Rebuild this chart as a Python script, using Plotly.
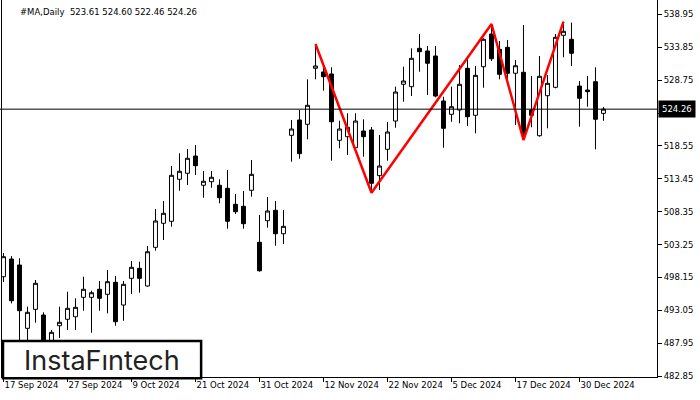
import pandas as pd
import plotly.graph_objects as go

# trading days (US market holidays removed)
holidays = ["2024-11-28", "2024-12-25", "2025-01-01"]
dates = [d.strftime("%Y-%m-%d") for d in pd.bdate_range("2024-09-17", "2025-01-03")
         if d.strftime("%Y-%m-%d") not in holidays]

opens = [
    498.26, 501.01, 500.08, 490.25, 493.20, 492.32, 487.82, 490.66, 491.65, 492.05,
    495.06, 495.06, 496.31, 495.53, 497.39, 493.87, 498.01, 499.56, 496.82, 502.82,
    506.55, 506.86, 513.38, 514.31, 516.99, 512.45, 513.00, 512.45, 511.98, 509.50,
    509.19, 511.67, 503.60, 506.95, 508.57, 504.93, 520.20, 522.58, 521.91, 530.60,
    530.03, 529.72, 519.43, 519.99, 518.28, 520.87, 521.03, 513.94, 518.03, 522.42,
    528.12, 527.75, 533.70, 533.29, 532.51, 525.53, 523.46, 524.13, 530.60, 523.31,
    530.85, 535.92, 533.55, 533.86, 529.83, 529.98, 524.13, 520.14, 526.35, 527.65,
    535.72, 535.10, 527.85, 527.23, 528.52, 523.61]
highs = [
    501.94, 501.47, 501.12, 493.61, 497.75, 492.74, 489.99, 493.61, 495.93, 494.91,
    498.26, 496.09, 497.59, 499.30, 498.37, 497.59, 500.70, 500.59, 503.03, 508.77,
    510.01, 515.44, 517.41, 518.08, 518.70, 514.66, 514.66, 513.38, 514.82, 511.10,
    511.56, 516.37, 507.84, 510.63, 510.01, 508.61, 522.58, 524.13, 528.89, 534.37,
    531.11, 530.76, 522.47, 523.62, 523.62, 522.69, 521.49, 520.25, 522.27, 527.75,
    530.85, 533.70, 535.92, 534.06, 534.06, 526.19, 527.75, 531.11, 532.40, 530.96,
    535.26, 537.48, 534.84, 534.99, 531.89, 537.32, 529.41, 532.51, 529.56, 535.92,
    537.83, 537.70, 528.63, 529.41, 530.76, 524.60]
lows = [
    497.44, 494.13, 487.66, 487.97, 491.12, 485.96, 486.89, 488.75, 489.99, 489.99,
    492.99, 489.57, 492.99, 492.58, 490.66, 491.43, 495.58, 495.78, 496.71, 502.30,
    503.96, 506.02, 511.61, 512.49, 514.04, 510.52, 512.07, 509.65, 505.71, 507.99,
    505.71, 510.68, 499.04, 505.87, 503.07, 503.34, 516.11, 516.57, 519.58, 528.89,
    527.13, 516.26, 518.19, 517.15, 517.66, 516.88, 511.30, 511.72, 516.26, 521.38,
    525.42, 526.30, 530.07, 526.46, 526.10, 518.28, 522.31, 522.07, 521.65, 520.51,
    527.59, 531.73, 528.89, 528.79, 521.80, 519.47, 521.45, 519.99, 521.29, 527.50,
    532.31, 530.96, 521.54, 524.64, 518.03, 522.46]
closes = [
    501.37, 494.54, 492.99, 492.74, 497.24, 486.89, 489.63, 491.19, 493.36, 493.51,
    496.31, 495.78, 494.91, 497.49, 491.28, 497.08, 499.72, 498.01, 502.14, 506.91,
    508.10, 514.00, 514.62, 516.64, 515.49, 513.07, 513.69, 510.52, 506.86, 508.35,
    506.49, 514.15, 499.19, 508.46, 504.93, 506.08, 521.18, 517.35, 524.86, 530.96,
    529.30, 522.31, 521.18, 521.45, 522.42, 519.99, 512.76, 515.44, 520.72, 526.92,
    528.63, 532.15, 533.18, 531.38, 526.30, 521.29, 524.64, 528.12, 523.09, 529.51,
    535.10, 532.09, 529.67, 529.83, 531.00, 520.51, 523.31, 529.36, 528.27, 535.41,
    536.34, 532.93, 525.95, 526.97, 522.69, 524.26]

# pattern pivots (bar index, which extreme)
pattern_bars = [39, 46, 61, 65, 70]
pattern_side = ["high", "low", "high", "low", "high"]
pattern_x = [dates[i] for i in pattern_bars]
pattern_y = [highs[i] if s == "high" else lows[i] for i, s in zip(pattern_bars, pattern_side)]

y_ticks = [482.85 + 5.1 * k for k in range(12)]
x_tick_dates = dates[0::8]
x_tick_text = [pd.Timestamp(d).strftime("%-d %b %Y") for d in x_tick_dates]

last_price = closes[-1]
title_text = "#MA,Daily  %.2f %.2f %.2f %.2f" % (opens[-1], highs[-1], lows[-1], closes[-1])

axis_font = dict(family="DejaVu Sans", size=8.5, color="black")

fig = go.Figure()
fig.add_trace(go.Candlestick(
    x=dates, open=opens, high=highs, low=lows, close=closes,
    increasing=dict(line=dict(color="black", width=1), fillcolor="white"),
    decreasing=dict(line=dict(color="black", width=1), fillcolor="black"),
    whiskerwidth=0,
    showlegend=False,
    hoverinfo="skip",
))
fig.add_trace(go.Scatter(
    x=pattern_x, y=pattern_y, mode="lines",
    line=dict(color="#ff0000", width=2.5),
    showlegend=False, hoverinfo="skip",
))

# current price line
fig.add_shape(type="line", xref="paper", x0=-0.004, x1=1, yref="y", y0=last_price, y1=last_price,
              line=dict(color="black", width=1))

# logo box
fig.add_shape(type="rect", xref="paper", yref="paper", x0=0.0015, x1=0.304, y0=-0.003, y1=0.0955,
              fillcolor="white", line=dict(color="black", width=2.5), layer="above")
fig.add_annotation(xref="paper", yref="paper", x=0.1527, y=0.045, text="InstaFıntech",
                   showarrow=False, xanchor="center", yanchor="middle",
                   font=dict(family="Inter", size=27, color="#222222"))

fig.add_annotation(xref="paper", yref="paper", x=0.0244, y=0.968, text=title_text,
                   showarrow=False, xanchor="left", yanchor="middle",
                   font=dict(family="DejaVu Sans", size=8.5, color="black"))

fig.add_annotation(xref="paper", yref="y", x=1, y=last_price, text="%.2f" % last_price,
                   showarrow=False, xanchor="left", yanchor="middle", xshift=1,
                   bgcolor="black", borderpad=3, font=dict(family="DejaVu Sans", size=8.5, color="white"))

fig.update_layout(
    width=700, height=400,
    margin=dict(l=2, r=43, t=0, b=23),
    paper_bgcolor="white", plot_bgcolor="white",
    xaxis=dict(
        type="category", range=[-0.1875, 81.69],
        tickvals=x_tick_dates, ticktext=x_tick_text,
        ticks="outside", ticklen=4, tickcolor="black",
        ticklabelposition="outside right",
        showline=True, linecolor="black", linewidth=1,
        showgrid=False, zeroline=False, automargin=False,
        rangeslider=dict(visible=False),
        tickfont=axis_font,
    ),
    yaxis=dict(
        side="right", range=[482.70, 541.20],
        tickvals=y_ticks, ticktext=["%.2f" % v for v in y_ticks],
        ticks="outside", ticklen=4, tickcolor="black",
        showline=True, mirror=True, linecolor="black", linewidth=1,
        showgrid=False, zeroline=False, automargin=False,
        tickfont=axis_font,
    ),
)

# the page's default 8px body margin would shift the whole chart
fig.write_html("out.html", config={"displayModeBar": False},
               post_script="document.body.style.margin='0';")
